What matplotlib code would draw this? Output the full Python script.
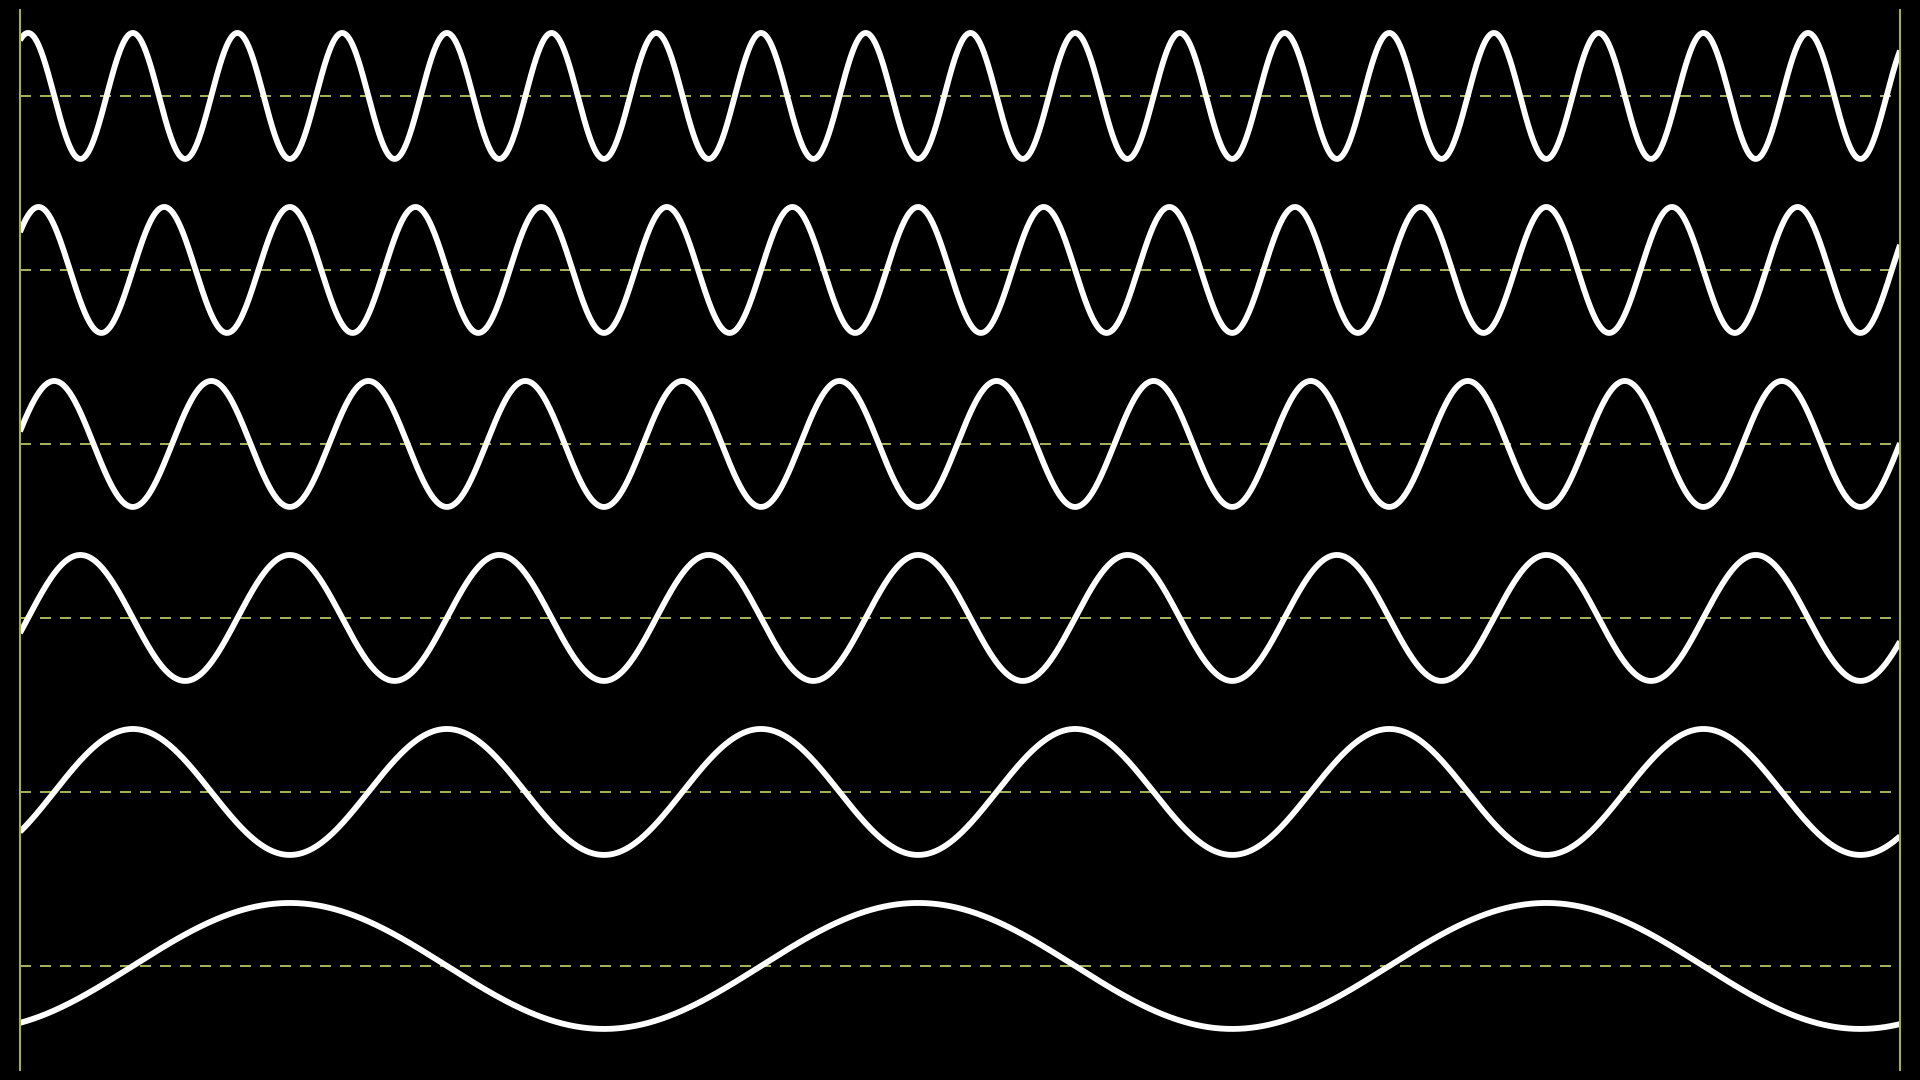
import numpy as np
import matplotlib
matplotlib.use("Agg")
import matplotlib.pyplot as plt

# Wave data
cycles = [18, 15, 12, 9, 6, 3]          # full cycles across the plot, top to bottom
row_offsets = [0, -1, -2, -3, -4, -5]   # baseline of each wave
amplitude = 0.362                       # relative to row spacing
x_start = 0.0235                        # phase position at left edge (fraction of unit span)
x_end = 1.021                           # phase position at right edge

plt.rcParams['lines.scale_dashes'] = False

fig = plt.figure(figsize=(19.2, 10.8), dpi=100, facecolor='black')
ax = fig.add_axes([20 / 1920, 10 / 1080, 1880 / 1920, 1060 / 1080])
ax.set_facecolor('black')

x = np.linspace(x_start, x_end, 4000)
guide = '#aab45a'
for f, off in zip(cycles, row_offsets):
    ax.axhline(off, color=guide, lw=1.4, dashes=(7.9, 6.5), zorder=1)
    ax.plot(x, off - amplitude * np.cos(2 * np.pi * f * x), color='white',
            lw=4.2, solid_capstyle='butt', zorder=3)

ax.set_xlim(x_start, x_end)
ax.set_ylim(-5.598, 0.494)
ax.set_xticks([])
ax.set_yticks([])
for side in ['top', 'bottom']:
    ax.spines[side].set_visible(False)
for side in ['left', 'right']:
    ax.spines[side].set_color('#a3ad4c')
    ax.spines[side].set_linewidth(1.5)
    ax.spines[side].set_zorder(4)

fig.savefig('out.png', dpi=100, facecolor='black')
